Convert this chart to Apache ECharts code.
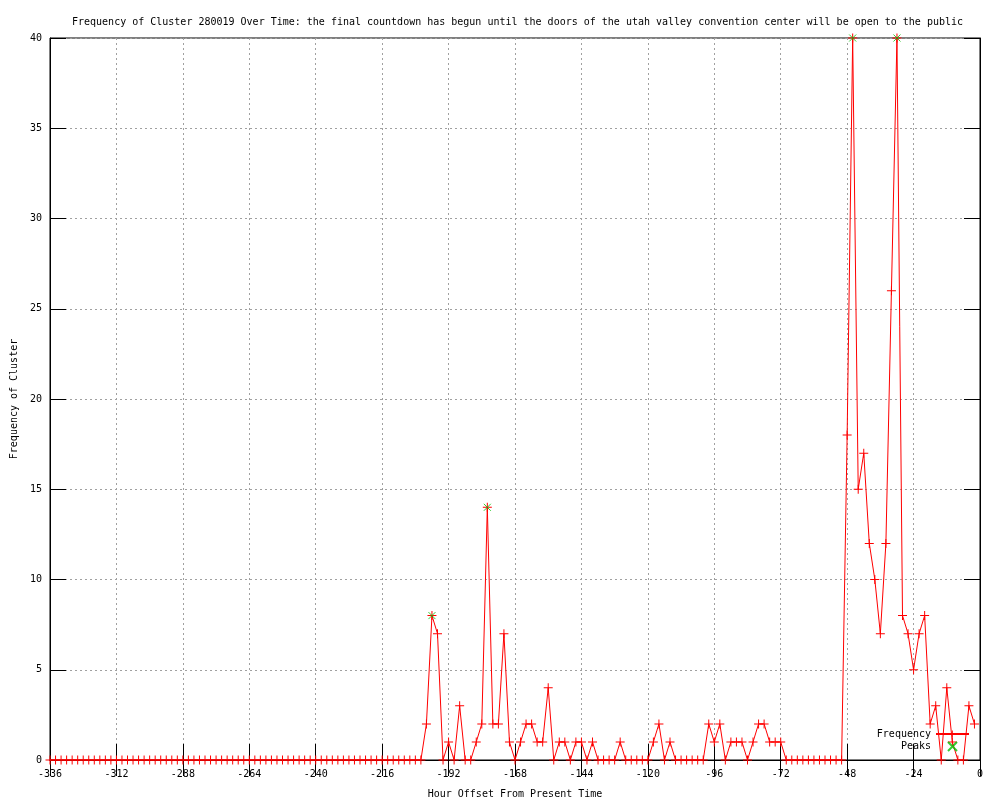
<!DOCTYPE html>
<html>
<head>
<meta charset="utf-8">
<script src="https://cdn.jsdelivr.net/npm/echarts@6/dist/echarts.min.js"></script>
<style>html,body{margin:0;padding:0;background:#fff}#c{width:1000px;height:800px}</style>
</head>
<body>
<div id="c"></div>
<script>
// Hour offsets start at -336 and step by 2 hours
var startHour = -336;
var stepHours = 2;
// Frequency values for hours -336 .. -2
var frequency = [
  0,0,0,0,0,0,0,0,0,0, 0,0,0,0,0,0,0,0,0,0,
  0,0,0,0,0,0,0,0,0,0, 0,0,0,0,0,0,0,0,0,0,
  0,0,0,0,0,0,0,0,0,0, 0,0,0,0,0,0,0,0,0,0,
  0,0,0,0,0,0,0,0,
  2,8,7,0,1,0,3,0,0,1, 2,14,2,2,7,1,0,1,2,2,
  1,1,4,0,1,1,0,1,1,0, 1,0,0,0,0,1,0,0,0,0,
  0,1,2,0,1,0,0,0,0,0, 0,2,1,2,0,1,1,1,0,1,
  2,2,1,1,1,0,0,0,0,0, 0,0,0,0,0,0,18,40,15,
  17,12,10,7,12,26,40,8,7,5, 7,8,2,3,0,4,1,0,0,3,
  2
];
var peakHours = [-198, -178, -46, -30];
var peakValues = [8, 14, 40, 40];

var freqData = frequency.map(function(v,i){ return [startHour + stepHours*i, v]; });
var peakData = peakHours.map(function(h,i){ return [h, peakValues[i]]; });

var FONT = 'DejaVu Sans Mono';
var plusPath = 'path://M4,0h1v4h4v1h-4v4h-1v-4h-4v-1h4z';
var crossPath = 'path://M0,0L8,8M8,0L0,8';

var chart = echarts.init(document.getElementById('c'));
var gridLine = {show:true, lineStyle:{color:'#a0a0a0', type:[2,3], width:1}};
chart.setOption({
  animation:false,
  backgroundColor:'#fff',
  title:{
    text:'Frequency of Cluster 280019 Over Time: the final countdown has begun until the doors of the utah valley convention center will be open to the public',
    left:67, top:12,
    textStyle:{fontFamily:FONT, fontSize:10, fontWeight:'normal', color:'#000'}
  },
  grid:{left:50, right:20, top:38, bottom:40, show:true, borderColor:'#000', borderWidth:1,
        containLabel:false, outerBoundsMode:'none'},
  legend:{
    orient:'vertical', right:30, top:729, align:'right', padding:0,
    itemWidth:33, itemHeight:9, itemGap:2,
    textStyle:{fontFamily:FONT, fontSize:10, color:'#000'},
    data:[{name:'Frequency'},{name:'Peaks'}]
  },
  xAxis:[{
    type:'value', min:-336, max:0, interval:24,
    name:'Hour Offset From Present Time', nameLocation:'middle', nameGap:29,
    nameTextStyle:{fontFamily:FONT, fontSize:10, color:'#000'},
    axisLine:{show:true, onZero:false, lineStyle:{color:'#000'}},
    axisTick:{show:true, inside:true, length:16, lineStyle:{color:'#000'}},
    axisLabel:{fontFamily:FONT, fontSize:10, color:'#000', margin:9},
    splitLine:gridLine
  },{
    type:'value', position:'top', min:-336, max:0, interval:24,
    axisLine:{show:true, lineStyle:{color:'#000'}},
    axisTick:{show:true, inside:true, length:16, lineStyle:{color:'#000'}},
    axisLabel:{show:false}, splitLine:{show:false}
  }],
  yAxis:[{
    type:'value', min:0, max:40, interval:5,
    name:'Frequency of Cluster', nameLocation:'middle', nameGap:31, nameRotate:90,
    nameTextStyle:{fontFamily:FONT, fontSize:10, color:'#000'},
    axisLine:{show:true, onZero:false, lineStyle:{color:'#000'}},
    axisTick:{show:true, inside:true, length:16, lineStyle:{color:'#000'}},
    axisLabel:{fontFamily:FONT, fontSize:10, color:'#000', margin:8},
    splitLine:gridLine
  },{
    type:'value', position:'right', min:0, max:40, interval:5,
    axisLine:{show:true, lineStyle:{color:'#000'}},
    axisTick:{show:true, inside:true, length:16, lineStyle:{color:'#000'}},
    axisLabel:{show:false}, splitLine:{show:false}
  }],
  series:[{
    name:'Frequency', type:'line', data:freqData,
    xAxisIndex:0, yAxisIndex:0,
    symbol:plusPath, symbolSize:9, showAllSymbol:true,
    lineStyle:{color:'#ff0000', width:1},
    itemStyle:{color:'#ff0000'},
    clip:false
  },{
    name:'Peaks', type:'scatter', data:peakData,
    xAxisIndex:0, yAxisIndex:0,
    symbol:crossPath, symbolSize:7,
    itemStyle:{color:'#00c000', borderColor:'#00c000', borderWidth:1},
    z:5
  }]
});
</script>
</body>
</html>
